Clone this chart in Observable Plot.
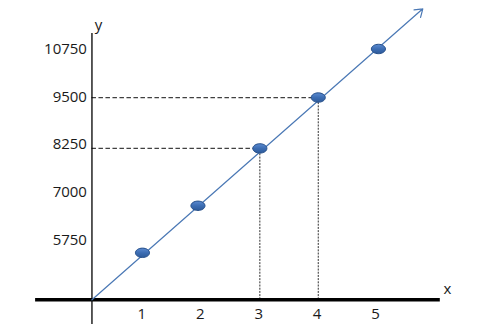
<!DOCTYPE html>
<html>
<head>
<meta charset="utf-8">
<script src="https://cdn.jsdelivr.net/npm/d3@7"></script>
<script src="https://cdn.jsdelivr.net/npm/@observablehq/plot@0.6"></script>
<style>
  html, body { margin: 0; padding: 0; background: #fff; }
  #chart svg { display: block; }
</style>
</head>
<body>
<div id="chart"></div>
<script>
// ---- data ----
const xTicks = [1, 2, 3, 4, 5];
const yTicks = [5750, 7000, 8250, 9500, 10750];
const pointX = [1.01, 1.96, 3.02, 4.02, 5.05];
const pointY = [5420, 6650, 8150, 9480, 10750];
const guideIndex = [2, 3];               // points with dashed guides (x=3, x=4)
const originX = [0.145];                 // where the y axis crosses
const baselineY = [4191];                // where the x axis lies
const xAxisExtent = [-0.82, 6.11];
const yAxisExtent = [3546, 11155];
const trendEnd = [5.81, 11801];          // arrow tip of the line
const axisNames = ["x", "y"];
const axisNamePos = [[6.23, 4461], [0.257, 11365]];

const points = pointX.map((x, i) => ({x, y: pointY[i]}));
const guides = guideIndex.map(i => points[i]);

const ellipse = {
  draw(context, size) {
    const r = Math.sqrt(size / Math.PI);
    const rx = r * 1.5, ry = r, k = 0.5523;
    context.moveTo(rx, 0);
    context.bezierCurveTo(rx, ry * k, rx * k, ry, 0, ry);
    context.bezierCurveTo(-rx * k, ry, -rx, ry * k, -rx, 0);
    context.bezierCurveTo(-rx, -ry * k, -rx * k, -ry, 0, -ry);
    context.bezierCurveTo(rx * k, -ry, rx, -ry * k, rx, 0);
    context.closePath();
  }
};

const font = "'Open Sans', Lato, sans-serif";

const chart = Plot.plot({
  width: 495,
  height: 335,
  margin: 0,
  style: {fontFamily: font, fontSize: "15px", color: "#1a1a1a", background: "#fff"},
  x: {domain: [-1.421, 7.055], axis: null},
  y: {domain: [3258, 12018], axis: null},
  marks: [
    // dashed guides
    Plot.ruleY(guides, {y: "y", x1: originX[0], x2: "x", stroke: "#404040", strokeWidth: 1.2, strokeDasharray: "4.5,2.5"}),
    Plot.ruleX(guides, {x: "x", y1: baselineY[0], y2: "y", stroke: "#303030", strokeWidth: 1, strokeDasharray: "2,1.2"}),
    // y axis line
    Plot.ruleX(originX, {x: d => d, y1: yAxisExtent[0], y2: yAxisExtent[1], stroke: "#000", strokeWidth: 1.3}),
    // x axis (thick baseline)
    Plot.ruleY(baselineY, {y: d => d, x1: xAxisExtent[0], x2: xAxisExtent[1], stroke: "#000", strokeWidth: 3.5}),
    // trend line with arrow
    Plot.arrow([0], {
      x1: () => originX[0], y1: () => baselineY[0],
      x2: () => trendEnd[0], y2: () => trendEnd[1],
      stroke: "#4a78b5", strokeWidth: 1.2, headLength: 11, headAngle: 68
    }),
    // points
    Plot.dot(points, {x: "x", y: "y", r: 4.7, symbol: ellipse, fill: "url(#ptgrad)", stroke: "#27508a", strokeWidth: 1}),
    // y tick labels
    Plot.text(yTicks, {x: () => originX[0], y: d => d, text: d => String(d), textAnchor: "end", dx: -5, fill: "#1a1a1a"}),
    // x tick labels
    Plot.text(xTicks, {x: d => d, y: () => baselineY[0], text: d => String(d), dy: 14, fill: "#1a1a1a"}),
    // axis names
    Plot.text(axisNames, {x: (d, i) => axisNamePos[i][0], y: (d, i) => axisNamePos[i][1], text: d => d, fill: "#1a1a1a"})
  ]
});

// gradient for the ellipse points
const ns = "http://www.w3.org/2000/svg";
const defs = document.createElementNS(ns, "defs");
defs.innerHTML = `<linearGradient id="ptgrad" x1="0" y1="0" x2="0" y2="1">
  <stop offset="0" stop-color="#5b8ad0"/>
  <stop offset="0.5" stop-color="#3c6db3"/>
  <stop offset="1" stop-color="#2d5a9a"/>
</linearGradient>`;
chart.insertBefore(defs, chart.firstChild);

document.getElementById("chart").appendChild(chart);
</script>
</body>
</html>
